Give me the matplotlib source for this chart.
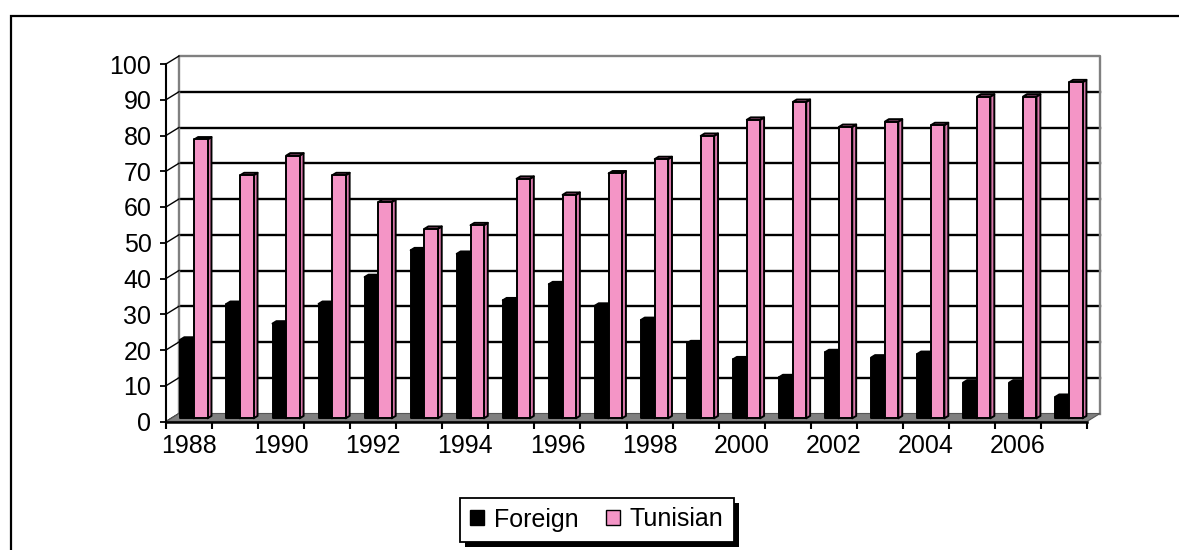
import numpy as np
import matplotlib.pyplot as plt
from matplotlib.patches import Polygon, Patch, Rectangle

plt.rcParams['font.family'] = ['Liberation Sans', 'DejaVu Sans']

years = list(range(1988, 2008))
foreign = [22, 32, 26.5, 32, 39.5, 47, 46, 33, 37.5, 31.5,
           27.5, 21, 16.5, 11.5, 18.5, 17, 18, 10, 10, 6]
tunisian = [78, 68, 73.5, 68, 60.5, 53, 54, 67, 62.5, 68.5,
            72.5, 79, 83.5, 88.5, 81.5, 83, 82, 90, 90, 94]

PINK = '#f495c6'
PINK_SIDE = '#d877aa'
PINK_TOP = '#c86a9c'
GREY = '#808080'
FS = 18

W, H = 1179, 550
fig = plt.figure(figsize=(W / 100, H / 100), dpi=100)
ax = fig.add_axes([166 / W, 1 - 421.5 / H, (1087 - 166) / W, (421.5 - 64) / H])
n = len(years)
ax.set_xlim(0, n)
ax.set_ylim(0, 100)

# depth of the 3d box, in data units (13 px right, 8 px up)
pos = ax.get_position()
px_x = pos.width * W / n
px_y = pos.height * H / 100
DX = 13 / px_x
DY = 8 / px_y


def at(x, y, d):
    return (x + d * DX, y + d * DY)


# back wall
for v in range(10, 100, 10):
    ax.plot([DX, n + DX], [v + DY, v + DY], color='black', lw=1.7, zorder=1,
            clip_on=False)
ax.plot([DX, DX, n + DX, n + DX], [DY, 100 + DY, 100 + DY, DY],
        color=GREY, lw=1.7, zorder=1, clip_on=False)
# side wall edges of the gridlines
for v in range(0, 101, 10):
    ax.plot([0, DX], [v, v + DY], color='black', lw=1, zorder=1,
            clip_on=False)

# floor
ax.add_patch(Polygon([at(0, 0, 0), at(n, 0, 0), at(n, 0, 1), at(0, 0, 1)],
                     closed=True, facecolor=GREY, edgecolor='#555555',
                     lw=0.8, zorder=2, clip_on=False))


def bar3d(x0, w, v, face, side, top, z):
    d0, d1 = 0.4, 0.7
    x1 = x0 + w
    kw = dict(closed=True, edgecolor='black', lw=1.4, zorder=z,
              clip_on=False, joinstyle='round')
    ax.add_patch(Polygon([at(x1, 0, d0), at(x1, 0, d1), at(x1, v, d1),
                          at(x1, v, d0)], facecolor=side, **kw))
    ax.add_patch(Polygon([at(x0, v, d0), at(x1, v, d0), at(x1, v, d1),
                          at(x0, v, d1)], facecolor=top, **kw))
    ax.add_patch(Polygon([at(x0, 0, d0), at(x1, 0, d0), at(x1, v, d0),
                          at(x0, v, d0)], facecolor=face, **kw))


bw = 0.29
for i in range(n):
    bar3d(i + 0.2, bw, foreign[i], 'black', 'black', 'black', 3 + 2 * i)
    bar3d(i + 0.5, bw, tunisian[i], PINK, PINK_SIDE, PINK_TOP, 4 + 2 * i)

# axes
for s in ['top', 'right']:
    ax.spines[s].set_visible(False)
ax.spines['left'].set_linewidth(1.5)
ax.spines['bottom'].set_linewidth(1.8)
ax.spines['left'].set_zorder(50)
ax.spines['bottom'].set_zorder(50)
ax.set_yticks(range(0, 101, 10))
ax.tick_params(axis='y', length=4.5, width=1.3, pad=6, labelsize=FS)
ax.set_xticks(range(n + 1))
ax.set_xticklabels([''] * (n + 1))
ax.set_xticks([i + 0.5 for i in range(0, n, 2)], minor=True)
ax.set_xticklabels([str(years[i]) for i in range(0, n, 2)], minor=True)
ax.tick_params(axis='x', which='major', length=5, width=1.5)
ax.tick_params(axis='x', which='minor', length=0, pad=9, labelsize=FS)
ax.patch.set_visible(False)

# legend with a solid drop shadow
handles = [Patch(facecolor='black', edgecolor='black'),
           Patch(facecolor=PINK, edgecolor='black')]
leg = fig.legend(handles, ['Foreign', 'Tunisian'], ncol=2, loc='center',
                 bbox_to_anchor=(597 / W, 1 - 519.5 / H), fontsize=FS,
                 frameon=True, fancybox=False, edgecolor='black',
                 framealpha=1, handlelength=0.55, handleheight=0.55,
                 handletextpad=0.4, columnspacing=1.1, borderpad=0.4)
leg.get_frame().set_linewidth(1.3)
fig.canvas.draw()
bb = leg.get_window_extent()
fig.add_artist(Rectangle((bb.x0 + 5, bb.y0 - 5), bb.width, bb.height,
                         transform=None, facecolor='black', edgecolor='none',
                         zorder=leg.get_zorder() - 0.1))

# outer chart border
fig.add_artist(Rectangle((10.5 / W, -0.05), 1.2, 1.05 - 16 / H,
                         transform=fig.transFigure, fill=False,
                         edgecolor='black', lw=1.6))

fig.savefig('out.png', dpi=100)
